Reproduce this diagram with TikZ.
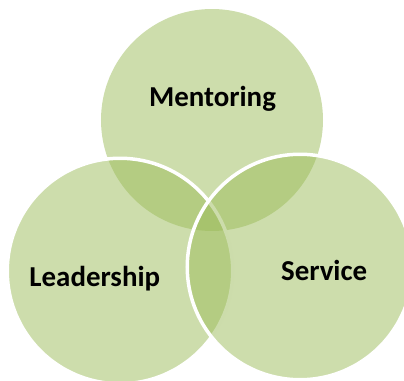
\documentclass[tikz,border=0pt]{standalone}
\usepackage{fontspec}
\setmainfont{Carlito}
\definecolor{leafgreen}{HTML}{9BBB59}
\begin{document}
\begin{tikzpicture}[x=1bp,y=-1bp,node font=\bfseries\fontsize{29}{32}\selectfont,
        ring/.style={circle,fill=leafgreen,fill opacity=0.5,draw=white,
        line width=3.5bp,minimum size=225.5bp,inner sep=0pt},
        word/.style={anchor=base,inner sep=0pt,text=black}]
        \useasboundingbox (0,0) rectangle (404,381);
        \node[ring, draw=none, minimum size=222bp] (mentoring) at (212,120) {};
        \node[ring] (leadership) at (120,271) {};
        \node[ring] (service) at (300,267) {};
        \node[word] (mentoringtext) at (212.5,106.5) {Mentoring};
        \node[word] (leadershiptext) at (94.8,286.5) {Leadership};
        \node[word] (servicetext) at (324.2,280.2) {Service};
        \end{tikzpicture}
\end{document}
